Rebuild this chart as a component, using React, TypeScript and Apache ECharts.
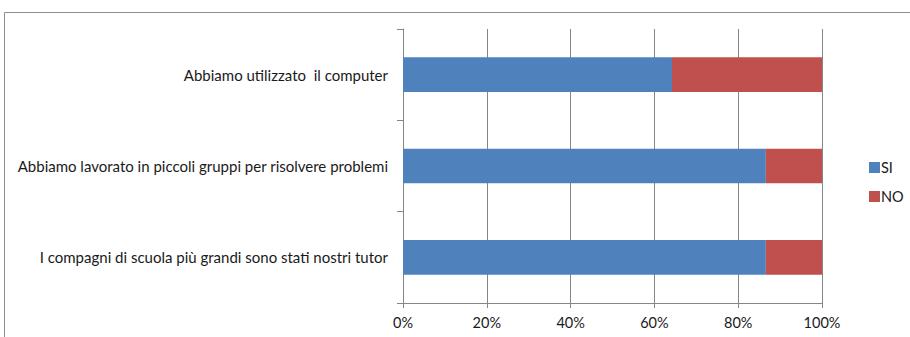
import React, { useEffect, useRef } from "react";
import * as echarts from "echarts";

const categories = [
  "Abbiamo utilizzato  il computer",
  "Abbiamo lavorato in piccoli gruppi per risolvere problemi",
  "I compagni di scuola più grandi sono stati nostri tutor",
];
const siValues = [64.2, 86.6, 86.6];
const noValues = [35.8, 13.4, 13.4];
const xTicks = [0, 20, 40, 60, 80, 100];

export default function App() {
  const ref = useRef<HTMLDivElement>(null);
  useEffect(() => {
    document.body.style.margin = "0";
    const chart = echarts.init(ref.current!, null, { renderer: "svg" });
    const font = "Lato";
    chart.setOption({
      animation: false,
      backgroundColor: "#ffffff",
      graphic: [
        {
          type: "rect",
          shape: { x: 4.5, y: 12.5, width: 920, height: 340 },
          style: { fill: "none", stroke: "#8c8c8c", lineWidth: 1 },
          z: -1,
        },
      ],
      legend: {
        orient: "vertical",
        left: 864,
        top: 155,
        itemWidth: 11,
        itemHeight: 11,
        itemGap: 14,
        icon: "rect",
        textStyle: { fontFamily: font, fontSize: 14.5, color: "#1a1a1a", padding: [0, 0, 0, -4] },
        data: ["SI", "NO"],
      },
      grid: { left: 403, right: 88, top: 29, bottom: 34, containLabel: false },
      xAxis: {
        type: "value",
        min: 0,
        max: 100,
        interval: 20,
        axisLine: { show: true, lineStyle: { color: "#868686", width: 1 } },
        axisTick: { show: true, length: 5, lineStyle: { color: "#868686" } },
        splitLine: { show: true, lineStyle: { color: "#868686", width: 1 } },
        axisLabel: {
          fontFamily: font,
          fontSize: 14.5,
          color: "#1a1a1a",
          margin: 12,
          formatter: (v: number) => (xTicks.includes(v) ? v + "%" : ""),
        },
      },
      yAxis: {
        type: "category",
        inverse: true,
        data: categories,
        axisLine: { show: true, lineStyle: { color: "#868686", width: 1 } },
        axisTick: { show: true, length: 6, inside: false, lineStyle: { color: "#868686" } },
        axisLabel: { fontFamily: font, fontSize: 15, color: "#1a1a1a", margin: 15 },
      },
      series: [
        {
          name: "SI",
          type: "bar",
          stack: "total",
          barWidth: "38%",
          data: siValues,
          itemStyle: { color: "#4f81bd" },
        },
        {
          name: "NO",
          type: "bar",
          stack: "total",
          barWidth: "38%",
          data: noValues,
          itemStyle: { color: "#c0504d" },
        },
      ],
    });
    return () => chart.dispose();
  }, []);
  return <div ref={ref} style={{ width: 910, height: 337 }} />;
}
